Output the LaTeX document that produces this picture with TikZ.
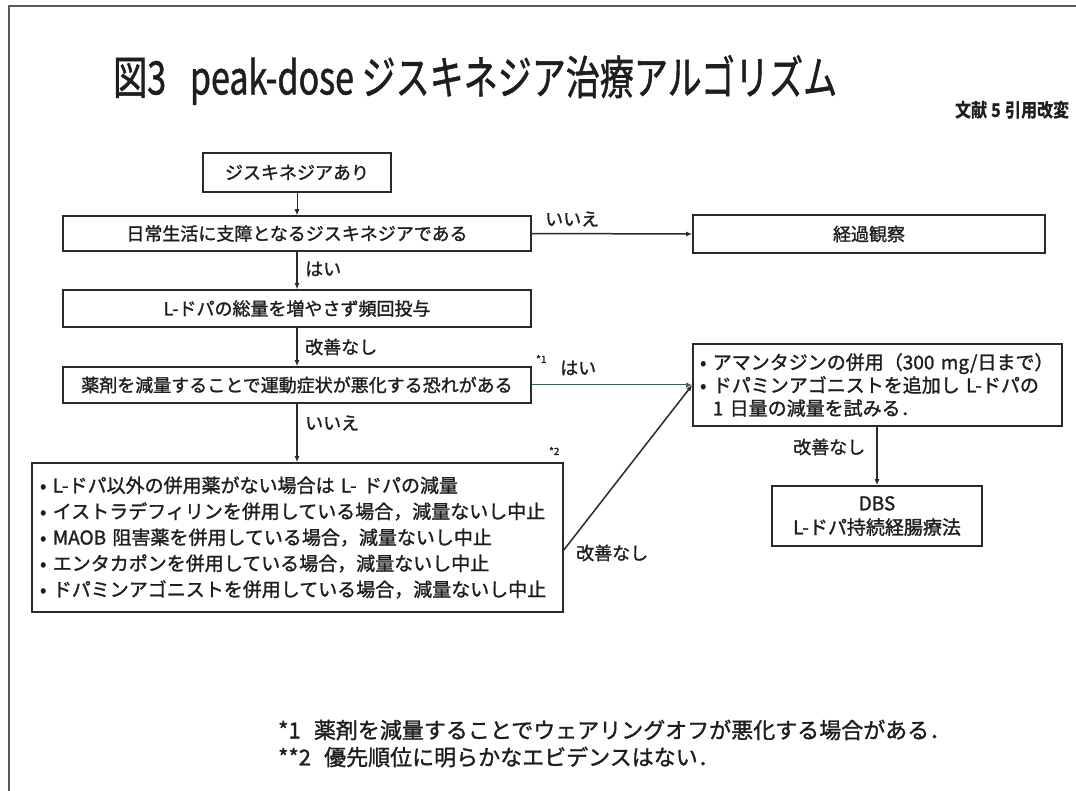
\documentclass[tikz,border=0pt]{standalone}
\usepackage{fontspec}
\setmainfont{Noto Sans CJK JP}
\newfontfamily\jpmid{Noto Sans CJK JP}[FakeBold=1.3]
\usetikzlibrary{arrows.meta}
\definecolor{ink}{HTML}{1E1E1E}
\definecolor{boxline}{HTML}{2A2A2A}
\definecolor{greenline}{RGB}{40,110,80}
\begin{document}
\begin{tikzpicture}[x=1pt,y=-1pt,
  box/.style={draw=boxline,line width=1.6pt,rectangle,inner sep=0pt,text=ink,
    font=\jpmid\fontsize{18}{22}\selectfont},
  arr/.style={draw=boxline,line width=1.5pt,-{Latex[length=6pt,width=5pt]}},
  lab/.style={text=ink,font=\jpmid\fontsize{18}{22}\selectfont,inner sep=0pt},
  small/.style={text=ink,font=\jpmid\fontsize{10}{12}\selectfont,inner sep=0pt}]
\useasboundingbox (0,0) rectangle (1076,791);
\fill[white] (0,0) rectangle (1076,791);
\draw[line width=1.5pt,gray!70!black] (1076,6) -- (9,6) -- (9,791);

% title
\node[anchor=west,inner sep=0pt,text=ink] (title) at (113,80)
  {\scalebox{0.74}[1]{\jpmid\fontsize{46}{50}\selectfont 図3\hspace{0.7em}peak-dose ジスキネジア治療アルゴリズム}};
\node[anchor=east,inner sep=0pt,text=ink] (ref) at (1070,110)
  {\scalebox{0.85}[1]{\fontsize{19}{22}\selectfont\bfseries 文献 5 引用改変}};

% boxes
\node[box,minimum width=188pt,minimum height=39pt] (b1) at (297,172.5) {ジスキネジアあり};
\node[box,minimum width=468pt,minimum height=35pt] (b2) at (297,233.5) {日常生活に支障となるジスキネジアである};
\node[box,minimum width=352pt,minimum height=38pt] (b3) at (869,234) {経過観察};
\node[box,minimum width=468pt,minimum height=37pt] (b4) at (297,308.5) {L-ドパの総量を増やさず頻回投与};
\node[box,minimum width=468pt,minimum height=36pt] (b5) at (297,385) {薬剤を減量することで運動症状が悪化する恐れがある};
\node[box,minimum width=531pt,minimum height=149pt,align=left,text width=515pt,inner xsep=8pt,
  font=\jpmid\fontsize{19}{26}\selectfont] (b6) at (297.5,537.5)
  {• L-ドパ以外の併用薬がない場合は L- ドパの減量\\
   • イストラデフィリンを併用している場合，減量ないし中止\\
   • MAOB 阻害薬を併用している場合，減量ないし中止\\
   • エンタカポンを併用している場合，減量ないし中止\\
   • ドパミンアゴニストを併用している場合，減量ないし中止};
\node[box,minimum width=369pt,minimum height=82pt,align=left,text width=355pt,inner xsep=7pt,
  font=\jpmid\fontsize{19}{23}\selectfont] (b7) at (877.5,385)
  {• アマンタジンの併用（300 mg/日まで）\\
   • ドパミンアゴニストを追加し L-ドパの\\
   \hphantom{• }1 日量の減量を試みる．};
\node[box,minimum width=210pt,minimum height=60pt,align=center,
  font=\jpmid\fontsize{19}{24}\selectfont] (b8) at (877,516)
  {DBS\\L-ドパ持続経腸療法};

% connectors
\draw[arr,line width=0.9pt] (b1.south) -- (b2.north);
\draw[arr] (b2.east) -- (b3.west);
\draw[arr] (b2.south) -- (b4.north);
\draw[arr] (b4.south) -- (b5.north);
\draw[arr] (b5.south) -- (b6.north -| b5.south);
\draw[draw=greenline,line width=1pt,-{Latex[length=6pt,width=5pt]}] (b5.east) -- (b7.west);
\coordinate (d0) at (b6.east |- 0,550);
\draw[arr] (d0) -- (b7.west);
\draw[arr] (b7.south -| b8.north) -- (b8.north);

% labels
\node[lab,anchor=west] (l1) at (545,219) {いいえ};
\node[lab,anchor=west] (l2) at (305,269) {はい};
\node[lab,anchor=west] (l3) at (305,347) {改善なし};
\node[small,anchor=west] (s1) at (536,359) {*1};
\node[lab,anchor=west] (l4) at (560,368) {はい};
\node[lab,anchor=west] (l5) at (305,423) {いいえ};
\node[small,anchor=west] (s2) at (549,451) {*2};
\node[lab,anchor=west] (l6) at (576,553) {改善なし};
\node[lab,anchor=west] (l7) at (793,447) {改善なし};

% footnotes
\node[anchor=west,inner sep=0pt,text=ink] (f1) at (278,730)
  {\jpmid\fontsize{22}{26}\selectfont *1\hspace{0.6em}薬剤を減量することでウェアリングオフが悪化する場合がある．};
\node[anchor=west,inner sep=0pt,text=ink] (f2) at (278,757)
  {\jpmid\fontsize{22}{26}\selectfont **2\hspace{0.6em}優先順位に明らかなエビデンスはない．};
\end{tikzpicture}
\end{document}
